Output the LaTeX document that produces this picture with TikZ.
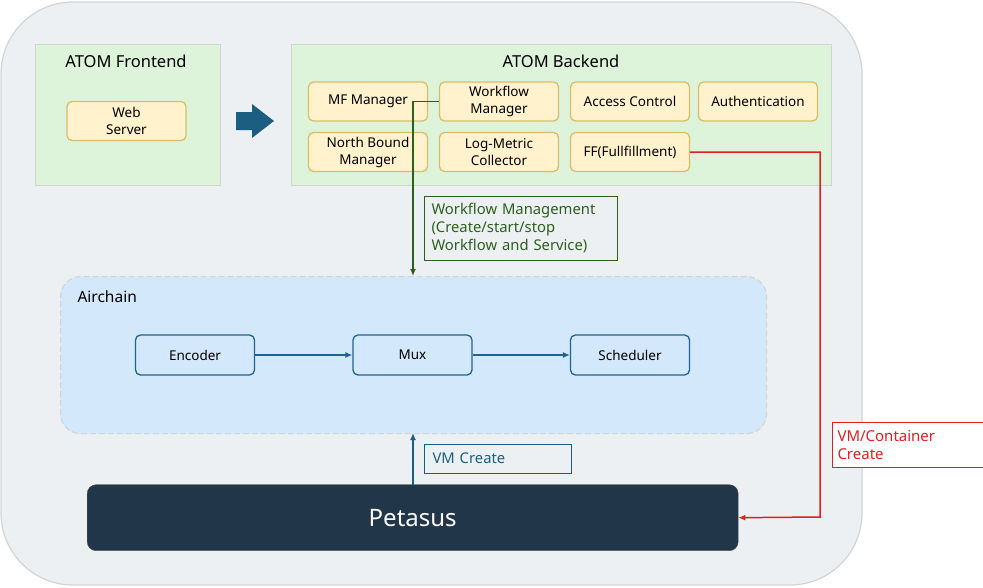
\documentclass[tikz,border=0pt]{standalone}
\usepackage{fontspec}
\setmainfont{Noto Sans}
\usetikzlibrary{arrows.meta}
\definecolor{outerfill}{HTML}{EDF0F2}
\definecolor{outerline}{HTML}{D2D4D6}
\definecolor{grpfill}{HTML}{DDF3DA}
\definecolor{grpline}{HTML}{CFD8CD}
\definecolor{compfill}{HTML}{FFF2CC}
\definecolor{compline}{HTML}{D9BE6A}
\definecolor{bluefill}{HTML}{D3E8FA}
\definecolor{blueline}{HTML}{1F6391}
\definecolor{darkblue}{HTML}{1B5E82}
\definecolor{navy}{HTML}{22364A}
\definecolor{dgreen}{HTML}{2D5F1E}
\definecolor{vred}{HTML}{E02020}
\begin{document}
\begin{tikzpicture}[x=1pt,y=-1pt,
  every node/.style={font=\fontsize{13.5}{17}\selectfont},
  comp/.style={draw=compline,fill=compfill,line width=1.3pt,rounded corners=5pt,
    minimum width=119pt,minimum height=39pt,align=center,inner sep=1pt},
  grp/.style={draw=grpline,fill=grpfill,line width=1.2pt},
  blk/.style={draw=blueline,fill=bluefill,line width=1.3pt,rounded corners=5pt,
    minimum width=119pt,minimum height=40pt,align=center,inner sep=1pt},
  lbl/.style={draw,fill=outerfill,line width=1pt,align=left,anchor=north west,inner xsep=8pt}
]
\useasboundingbox (0,0) rectangle (983,587);
% outer container
\draw[draw=outerline,fill=outerfill,line width=1.2pt,rounded corners=72pt] (1,2) rectangle (862,585);
% frontend
\node[grp,minimum width=185pt,minimum height=141pt,anchor=north west] (fe) at (35,44) {};
\node[font=\fontsize{16.5}{18}\selectfont] (fet) at (126,61) {ATOM Frontend};
\node[comp] (web) at (126.5,121) {Web\\Server};
% block arrow
\fill[darkblue] (236,112) -- (252,112) -- (252,104) -- (274,121) -- (252,138) -- (252,130) -- (236,130) -- cycle;
% backend
\node[grp,minimum width=540pt,minimum height=141pt,anchor=north west] (be) at (291,44) {};
\node[font=\fontsize{16.5}{18}\selectfont] (bet) at (561,61) {ATOM Backend};
\node[comp] (mf) at (368,101.5) {MF Manager};
\node[comp] (wf) at (499,101.5) {Workflow\\Manager};
\node[comp] (ac) at (630,101.5) {Access Control};
\node[comp] (au) at (758,101.5) {Authentication};
\node[comp] (nb) at (368,152) {North Bound\\Manager};
\node[comp] (lm) at (499,152) {Log-Metric\\Collector};
\node[comp] (ff) at (630,152) {FF(Fullfillment)};
% airchain
\node[draw=outerline,dashed,dash pattern=on 6pt off 3pt,fill=bluefill,line width=1.2pt,
  rounded corners=20pt,minimum width=706pt,minimum height=157pt,anchor=north west] (air) at (60,276) {};
\node[anchor=west,font=\fontsize{15.5}{18}\selectfont] (airt) at (74,297) {Airchain};
\node[blk] (enc) at (195,355) {Encoder};
\node[blk] (mux) at (412.5,355) {Mux};
\node[blk] (sch) at (630,355) {Scheduler};
\draw[-{Latex[length=7pt,width=6pt]},blueline,line width=1.3pt] (enc) -- (mux);
\draw[-{Latex[length=7pt,width=6pt]},blueline,line width=1.3pt] (mux) -- (sch);
% petasus
\node[draw=black!70,fill=navy,rounded corners=9pt,minimum width=651pt,minimum height=66pt,
  anchor=north west,text=white,font=\fontsize{24}{28}\selectfont] (pet) at (87,484.5) {Petasus};
% green connector
\coordinate (g1) at (413,101.5);
\coordinate (g2) at (413,276);
\draw[dgreen,line width=1.5pt,-{Latex[length=7pt,width=6pt]}] (wf.west) -- (g1) -- (g2);
\node[lbl,draw=dgreen,text=dgreen,text width=179pt,minimum height=64pt,inner xsep=7pt,
  font=\fontsize{14.8}{18}\selectfont] (wfl) at (424,196)
  {Workflow Management\\(Create/start/stop\\Workflow and Service)};
% VM create
\coordinate (v1) at (413,484.5);
\coordinate (v2) at (413,433);
\draw[darkblue,line width=1.5pt,-{Latex[length=7pt,width=6pt]}] (v1) -- (v2);
\node[lbl,draw=darkblue,text=darkblue,text width=131pt,minimum height=29pt,
  font=\fontsize{14.8}{17}\selectfont,anchor=west] (vml) at (424,458.5) {VM Create};
% red connector
\coordinate (r1) at (820,152);
\coordinate (r2) at (820,517);
\draw[vred,line width=1.5pt,-{Latex[length=7pt,width=6pt]}] (ff.east) -- (r1) -- (r2) -- (pet.east);
\node[lbl,draw=vred,fill=white,text=vred,text width=141pt,minimum height=45pt,inner xsep=5pt,
  font=\fontsize{15}{18}\selectfont] (vcl) at (832,422) {VM/Container\\Create};
\end{tikzpicture}
\end{document}
